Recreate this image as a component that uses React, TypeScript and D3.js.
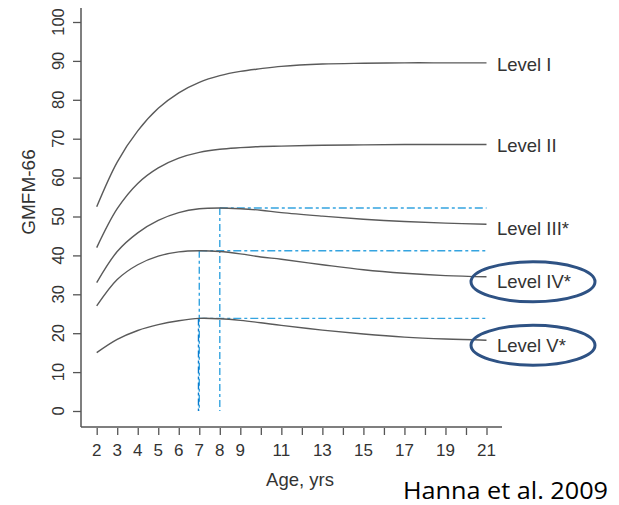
import * as d3 from 'd3';
import { useRef, useEffect } from 'react';

// GMFM-66 curves by GMFCS level
const ages = [2, 3, 4, 5, 6, 7, 8, 9, 10, 11, 13, 15, 17, 19, 21];
const level1 = [52.5, 64, 72, 77.8, 81.8, 84.5, 86.2, 87.3, 88, 88.6, 89.2, 89.4, 89.5, 89.5, 89.5];
const level2 = [42, 52, 58.5, 62.5, 65, 66.5, 67.3, 67.7, 68, 68.1, 68.3, 68.4, 68.5, 68.5, 68.5];
const level3 = [33, 41, 45.8, 49, 51, 52, 52.2, 52, 51.6, 51, 50.1, 49.3, 48.7, 48.3, 48];
const level4 = [27, 33.8, 37.6, 39.8, 40.9, 41.2, 41, 40.4, 39.6, 39, 37.6, 36.3, 35.4, 34.8, 34.5];
const level5 = [15, 18.4, 20.7, 22.2, 23.2, 23.8, 23.7, 23.3, 22.7, 22, 20.8, 19.8, 19, 18.5, 18.2];
const levelNames = ['Level I', 'Level II', 'Level III*', 'Level IV*', 'Level V*'];
const circled = ['Level IV*', 'Level V*'];

// peak age / value markers (blue dash-dot lines)
const peakAges = [8, 7, 7];
const peakValues = [52.2, 41.2, 23.8];

const yTicks = [0, 10, 20, 30, 40, 50, 60, 70, 80, 90, 100];
const xTicks = d3.range(2, 22);
const xLabels = [2, 3, 4, 5, 6, 7, 8, 9, 11, 13, 15, 17, 19, 21];

function App() {
  const svgRef = useRef(null);
  const width = 619;
  const height = 505;

  useEffect(() => {
    const svg = d3.select(svgRef.current);
    svg.selectAll('*').remove();

    const xScale = d3.scaleLinear().domain([2, 21]).range([96.7, 486.5]);
    const yScale = d3.scaleLinear().domain([0, 100]).range([411, 22]);
    const axisColor = '#555';
    const textColor = '#333';
    const font = 'Liberation Sans, Arial, sans-serif';

    // frame (L shaped)
    svg.append('line')
      .attr('x1', 81).attr('x2', 81).attr('y1', 8).attr('y2', 427)
      .attr('stroke', axisColor).attr('stroke-width', 1.5);
    svg.append('line')
      .attr('x1', 81).attr('x2', 502).attr('y1', 427).attr('y2', 427)
      .attr('stroke', axisColor).attr('stroke-width', 1.5);

    // y axis
    const yAxis = d3.axisLeft(yScale).tickValues(yTicks).tickSize(8).tickFormat(() => '');
    const gy = svg.append('g').attr('transform', 'translate(81,0)').call(yAxis);
    gy.select('.domain').remove();
    gy.selectAll('line').attr('stroke', axisColor).attr('stroke-width', 1.3);
    svg.append('g')
      .selectAll('text')
      .data(yTicks)
      .join('text')
      .attr('transform', (d) => `translate(64,${yScale(d)}) rotate(-90)`)
      .attr('text-anchor', 'middle')
      .attr('font-family', font)
      .attr('font-size', 16.5)
      .attr('fill', textColor)
      .text((d) => d);

    // x axis
    const xAxis = d3.axisBottom(xScale).tickValues(xTicks).tickSize(7).tickFormat(() => '');
    const gx = svg.append('g').attr('transform', 'translate(0,428)').call(xAxis);
    gx.select('.domain').remove();
    gx.selectAll('line').attr('stroke', axisColor).attr('stroke-width', 1.3);
    svg.append('g')
      .selectAll('text')
      .data(xLabels)
      .join('text')
      .attr('x', (d) => xScale(d))
      .attr('y', 456)
      .attr('text-anchor', 'middle')
      .attr('font-family', font)
      .attr('font-size', 17)
      .attr('fill', textColor)
      .text((d) => d);

    // axis titles
    svg.append('text')
      .attr('x', 300).attr('y', 486)
      .attr('text-anchor', 'middle')
      .attr('font-family', font).attr('font-size', 18.5)
      .attr('fill', textColor)
      .text('Age, yrs');
    svg.append('text')
      .attr('transform', 'translate(35,192) rotate(-90)')
      .attr('text-anchor', 'middle')
      .attr('font-family', font).attr('font-size', 19)
      .attr('fill', textColor)
      .text('GMFM-66');

    // peak reference lines
    const blue = '#35a4e0';
    peakAges.forEach((age, i) => {
      svg.append('line')
        .attr('x1', xScale(age)).attr('x2', xScale(21))
        .attr('y1', yScale(peakValues[i])).attr('y2', yScale(peakValues[i]))
        .attr('stroke', blue).attr('stroke-width', 1.4)
        .attr('stroke-dasharray', '8 3 3 3');
      svg.append('line')
        .attr('x1', xScale(age) - (i === 2 ? 0.8 : 0)).attr('x2', xScale(age) - (i === 2 ? 0.8 : 0))
        .attr('y1', yScale(peakValues[i])).attr('y2', yScale(0))
        .attr('stroke', i === 2 ? '#0a7ccf' : blue).attr('stroke-width', 1.4)
        .attr('stroke-dasharray', '7 3 3 3');
    });

    // curves
    const series = [level1, level2, level3, level4, level5];
    const line = d3.line()
      .curve(d3.curveCatmullRom.alpha(0.5))
      .x((d) => xScale(d[0]))
      .y((d) => yScale(d[1]));
    series.forEach((vals) => {
      svg.append('path')
        .datum(ages.map((a, j) => [a, vals[j]]))
        .attr('d', line)
        .attr('fill', 'none')
        .attr('stroke', '#5a5a5a')
        .attr('stroke-width', 1.4);
    });

    // level labels
    const labelOffsets = [2, 1, 4, 5, 5];
    series.forEach((vals, i) => {
      const y = yScale(vals[vals.length - 1]) + labelOffsets[i];
      svg.append('text')
        .attr('x', 497).attr('y', y)
        .attr('dominant-baseline', 'central')
        .attr('font-family', font).attr('font-size', 18.5)
        .attr('fill', textColor)
        .text(levelNames[i]);
      if (circled.includes(levelNames[i])) {
        svg.append('ellipse')
          .attr('cx', 533).attr('cy', y)
          .attr('rx', 62).attr('ry', 20)
          .attr('fill', 'none')
          .attr('stroke', '#2e5284')
          .attr('stroke-width', 3);
      }
    });

    // citation
    svg.append('text')
      .attr('x', 403).attr('y', 499)
      .attr('font-family', 'Open Sans, sans-serif')
      .attr('font-size', 23)
      .attr('textLength', 205)
      .attr('lengthAdjust', 'spacingAndGlyphs')
      .attr('fill', '#000')
      .text('Hanna et al. 2009');
  }, []);

  return (
    <svg
      ref={svgRef}
      width={width}
      height={height}
      style={{ position: 'absolute', left: 0, top: 0, background: '#fff' }}
    />
  );
}

export default App;
